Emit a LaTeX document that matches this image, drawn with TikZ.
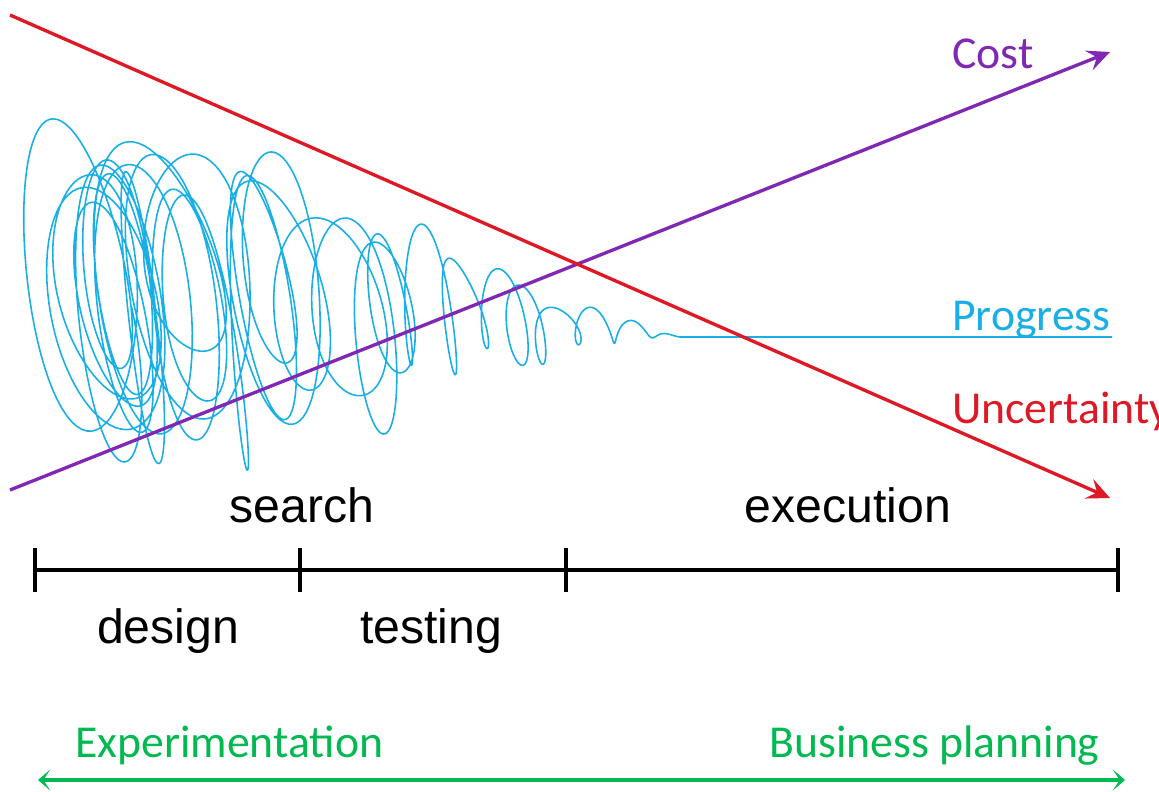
\documentclass[tikz,border=0pt]{standalone}
\usepackage{fontspec}
\setmainfont{Liberation Sans}
\newfontfamily\curvefont{Carlito}
\usetikzlibrary{arrows.meta}
\definecolor{costcol}{RGB}{128,40,180}
\definecolor{unccol}{RGB}{222,24,36}
\definecolor{progcol}{RGB}{25,175,230}
\definecolor{plancol}{RGB}{0,185,80}
\tikzset{
  phase/.style={font=\fontsize{27.4}{30}\selectfont, anchor=base, inner sep=0pt},
  curvelabel/.style={font=\curvefont\fontsize{26}{30}\selectfont, anchor=base west, inner sep=0pt},
  trendline/.style={line width=1.9pt, -{Stealth[length=13pt,width=12pt,inset=5pt]}},
  axis/.style={line width=1.8pt},
  declare function={
    cenx(\u)=95+585*\u*\u;
    ceny(\u)=290+47*\u*\u*\u;
    amp(\u)=165*pow(max(min(1,(680-cenx(\u))/430),0.0001),1.2);
  }
}
\begin{document}
\begin{tikzpicture}[x=0.02cm, y=-0.02cm]
  \useasboundingbox (0,0) rectangle (1159,791);

  % end points
  \coordinate (cost start) at (10,490);
  \coordinate (cost end) at (1110,52);
  \coordinate (unc start) at (10,15);
  \coordinate (unc end) at (1110,498);
  \coordinate (prog end) at (1112,337);

  % Progress (scribble)
  \draw[progcol, line width=0.9pt, line join=round]
    plot[variable=\u, domain=0:1, samples=2000]
    ({cenx(\u)+amp(\u)*((0.22+0.1*sin(1300*\u))*cos(10800*\u)+0.1*sin(10800*\u)+0.12*sin(2300*\u)+0.08*sin(5300*\u))},
     {ceny(\u)+amp(\u)*((0.75+0.15*sin(3900*\u)+0.1*sin(7100*\u))*sin(10800*\u)+0.15*sin(1700*\u+40))})
    coordinate (scribble end);
  \draw[progcol, line width=1.1pt] (scribble end) -- (prog end);
  \node[curvelabel, text=progcol] (progress) at (952,330) {Progress};

  % Cost
  \draw[trendline, costcol] (cost start) -- (cost end);
  \node[curvelabel, text=costcol] (cost) at (952,68) {Cost};

  % Uncertainty
  \draw[trendline, unccol] (unc start) -- (unc end);
  \node[curvelabel, text=unccol] (uncertainty) at (952,423) {Uncertainty};

  % phases
  \node[phase] (search) at (302,522) {search};
  \node[phase] (execution) at (848,522) {execution};

  \coordinate (t0) at (35,570);
  \coordinate (t1) at (300,570);
  \coordinate (t2) at (566,570);
  \coordinate (t3) at (1118,570);
  \draw[axis] (t0) -- (t3);
  \foreach \p in {t0,t1,t2,t3}
    \draw[axis] (\p) ++(0,-22) -- ++(0,44);

  \node[phase] (design) at (168,643) {design};
  \node[phase] (testing) at (431,643) {testing};

  % Experimentation / Business planning
  \coordinate (plan left) at (38,780);
  \coordinate (plan right) at (1125,780);
  \draw[plancol, line width=1.8pt, {Stealth[length=7pt,width=12pt,inset=4pt]}-{Stealth[length=7pt,width=12pt,inset=4pt]}] (plan left) -- (plan right);
  \node[curvelabel, text=plancol] (experimentation) at (75,757) {Experimentation};
  \node[curvelabel, text=plancol, anchor=base east] (business) at (1100,757) {Business planning};
\end{tikzpicture}
\end{document}
